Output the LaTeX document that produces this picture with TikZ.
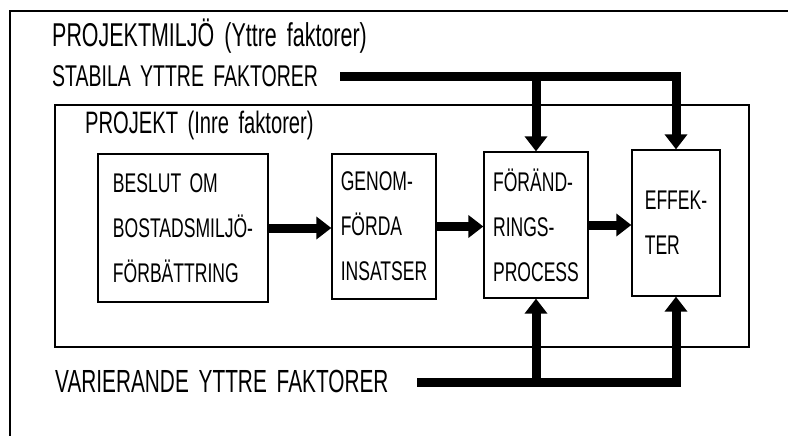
\documentclass[tikz,border=0pt]{standalone}
\usepackage{fontspec}
\setmainfont[FakeStretch=0.65,WordSpace=1.7]{Liberation Sans}
\usepackage{tikz}
\usetikzlibrary{arrows.meta,positioning,calc}

\begin{document}
\begin{tikzpicture}[x=1pt,y=-1pt,line join=miter,
    box/.style={draw,line width=1.3pt,inner sep=0pt,align=left,
                font=\fontsize{27}{45}\selectfont},
    lbl/.style={anchor=base west,inner sep=0pt,font=\fontsize{30}{34}\selectfont},
    fatarrow/.style={line width=9pt,-{Triangle[length=15pt,width=22pt]}}]
    \useasboundingbox (0,0) rectangle (788,436);

    % outer and inner frame
    \draw[line width=1.5pt] (788,11) -| (10,436);
    \draw[line width=1.3pt] (55,105) rectangle (749,347);

    % labels
    \node[lbl,font=\fontsize{33}{36}\selectfont] (milj) at (52,47) {PROJEKTMILJÖ (Yttre faktorer)};
    \node[lbl] (stab) at (52,87) {STABILA YTTRE FAKTORER};
    \node[lbl,font=\fontsize{31}{34}\selectfont] (proj) at (85,133) {PROJEKT (Inre faktorer)};
    \node[lbl,font=\fontsize{32}{36}\selectfont] (vari) at (55,392) {VARIERANDE YTTRE FAKTORER};

    % process boxes
    \node[box,minimum width=170pt,minimum height=148pt] (beslut) at (183,228)
        {BESLUT OM\\BOSTADSMILJÖ-\\FÖRBÄTTRING};
    \node[box,minimum width=104pt,minimum height=145pt] (insats) at (384,226.5)
        {GENOM-\\FÖRDA\\INSATSER};
    \node[box,minimum width=104pt,minimum height=146pt] (process) at (536,225)
        {FÖRÄND-\\RINGS-\\PROCESS};
    \node[box,minimum width=88pt,minimum height=146pt] (effekt) at (676,223)
        {EFFEK-\\TER};

    \draw[fatarrow] (beslut.east) -- (beslut.east -| insats.west);
    \draw[fatarrow] (insats.east) -- (insats.east -| process.west);
    \draw[fatarrow] (process.east) -- (process.east -| effekt.west);

    % stable factors from above
    \coordinate (stabS) at (340,77);
    \draw[fatarrow] (stabS) -| (effekt.north);
    \draw[fatarrow] (process.north |- stabS) -- (process.north);

    % varying factors from below
    \coordinate (variS) at (417,382);
    \draw[fatarrow] (variS) -| (effekt.south);
    \draw[fatarrow] (process.south |- variS) -- (process.south);
\end{tikzpicture}
\end{document}
